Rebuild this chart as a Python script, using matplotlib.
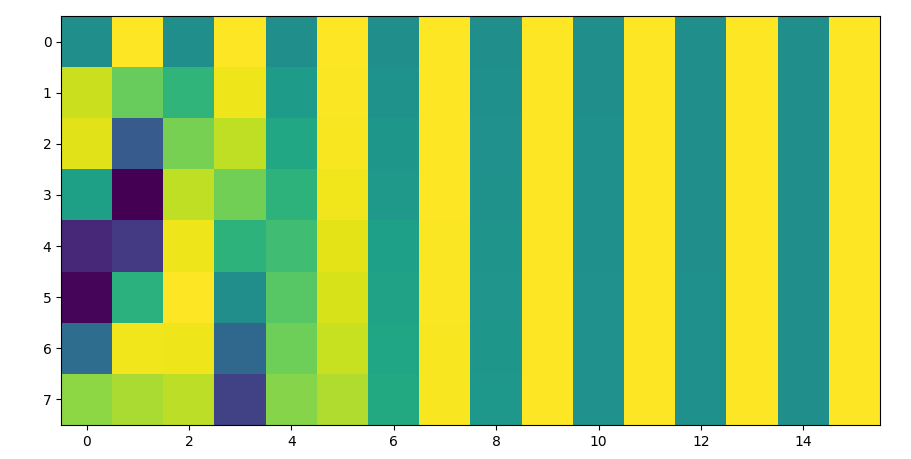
import numpy as np
import matplotlib
matplotlib.use("Agg")
import matplotlib.pyplot as plt

# positional-encoding style matrix: 8 positions x 16 dims
row0 = [0.00, 1.00, 0.00, 1.00, 0.00, 1.00, 0.00, 1.00, 0.00, 1.00, 0.00, 1.00, 0.00, 1.00, 0.00, 1.00]
row1 = [0.84, 0.54, 0.31, 0.95, 0.10, 0.99, 0.03, 1.00, 0.01, 1.00, 0.00, 1.00, 0.00, 1.00, 0.00, 1.00]
row2 = [0.91, -0.42, 0.59, 0.81, 0.20, 0.98, 0.06, 1.00, 0.02, 1.00, 0.01, 1.00, 0.00, 1.00, 0.00, 1.00]
row3 = [0.14, -0.99, 0.81, 0.58, 0.30, 0.96, 0.09, 1.00, 0.03, 1.00, 0.01, 1.00, 0.00, 1.00, 0.00, 1.00]
row4 = [-0.76, -0.65, 0.95, 0.30, 0.39, 0.92, 0.13, 0.99, 0.04, 1.00, 0.01, 1.00, 0.00, 1.00, 0.00, 1.00]
row5 = [-0.96, 0.28, 1.00, -0.01, 0.48, 0.88, 0.16, 0.99, 0.05, 1.00, 0.02, 1.00, 0.01, 1.00, 0.00, 1.00]
row6 = [-0.28, 0.96, 0.95, -0.32, 0.56, 0.83, 0.19, 0.98, 0.06, 1.00, 0.02, 1.00, 0.01, 1.00, 0.00, 1.00]
row7 = [0.66, 0.75, 0.80, -0.60, 0.64, 0.76, 0.22, 0.98, 0.07, 1.00, 0.02, 1.00, 0.01, 1.00, 0.00, 1.00]

pe = np.array([row0, row1, row2, row3, row4, row5, row6, row7])

fig = plt.figure(figsize=(9.12, 4.59), dpi=100)
ax = fig.add_axes([0.067, 0.074, 0.898, 0.891])
ax.imshow(pe, cmap="viridis", aspect="auto")
ax.set_xticks(range(0, 16, 2))
ax.set_yticks(range(8))

fig.savefig("out.png", dpi=100)
